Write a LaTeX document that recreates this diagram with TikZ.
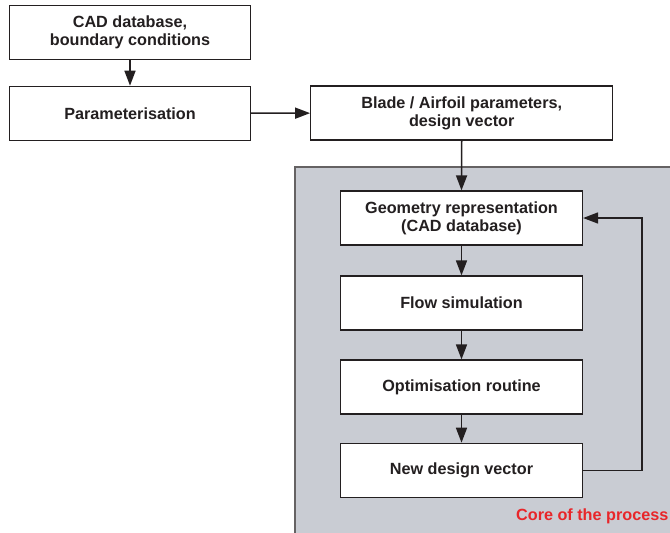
\documentclass[tikz,border=0pt]{standalone}
\usepackage{fontspec}
\setmainfont{Liberation Sans}
\usetikzlibrary{arrows.meta}
\definecolor{ink}{HTML}{231F20}
\definecolor{coregrey}{HTML}{C9CCD3}
\definecolor{corered}{HTML}{E8262A}
\tikzset{
  box/.style={draw=ink, line width=1.2pt, fill=white, minimum width=241pt, minimum height=54pt,
    inner sep=0pt, align=center, text=ink, font=\fontsize{16.2}{18}\selectfont\bfseries},
  flow/.style={draw=ink, line width=1.6pt, -{Triangle[length=15pt,width=11pt]}},
}
\begin{document}
\begin{tikzpicture}[x=1pt,y=-1pt]
\useasboundingbox (0,0) rectangle (670,533);
\fill[coregrey] (295,167) rectangle (672,535);
\draw[ink!70, line width=1.1pt] (295,535) -- (295,167) -- (672,167);
\node[box] (cad) at (130,32.8) {CAD database,\\boundary conditions};
\node[box] (param) at (130,113.3) {Parameterisation};
\node[box, minimum width=302pt] (blade) at (461.7,113) {Blade / Airfoil parameters,\\design vector};
\node[box, minimum width=242pt] (geom) at (461.5,218) {Geometry representation\\(CAD database)};
\node[box, minimum width=242pt] (flowsim) at (461.5,303) {Flow simulation};
\node[box, minimum width=242pt] (optim) at (461.5,387) {Optimisation routine};
\node[box, minimum width=242pt] (newdv) at (461.5,470.3) {New design vector};
\node[anchor=east, text=corered, font=\fontsize{16.2}{18}\selectfont\bfseries, inner sep=0pt] (core) at (668.5,516.5) {Core of the process};
\coordinate (fbr) at (641.7,470.3);
\coordinate (fbt) at (641.7,218);
\draw[flow] (cad) -- (param);
\draw[flow] (param) -- (blade);
\draw[flow] (blade.south) -- (geom.north);
\draw[flow] (geom) -- (flowsim);
\draw[flow] (flowsim) -- (optim);
\draw[flow] (optim) -- (newdv);
\draw[flow] (newdv.east) -- (fbr) -- (fbt) -- (geom.east);
\end{tikzpicture}
\end{document}
